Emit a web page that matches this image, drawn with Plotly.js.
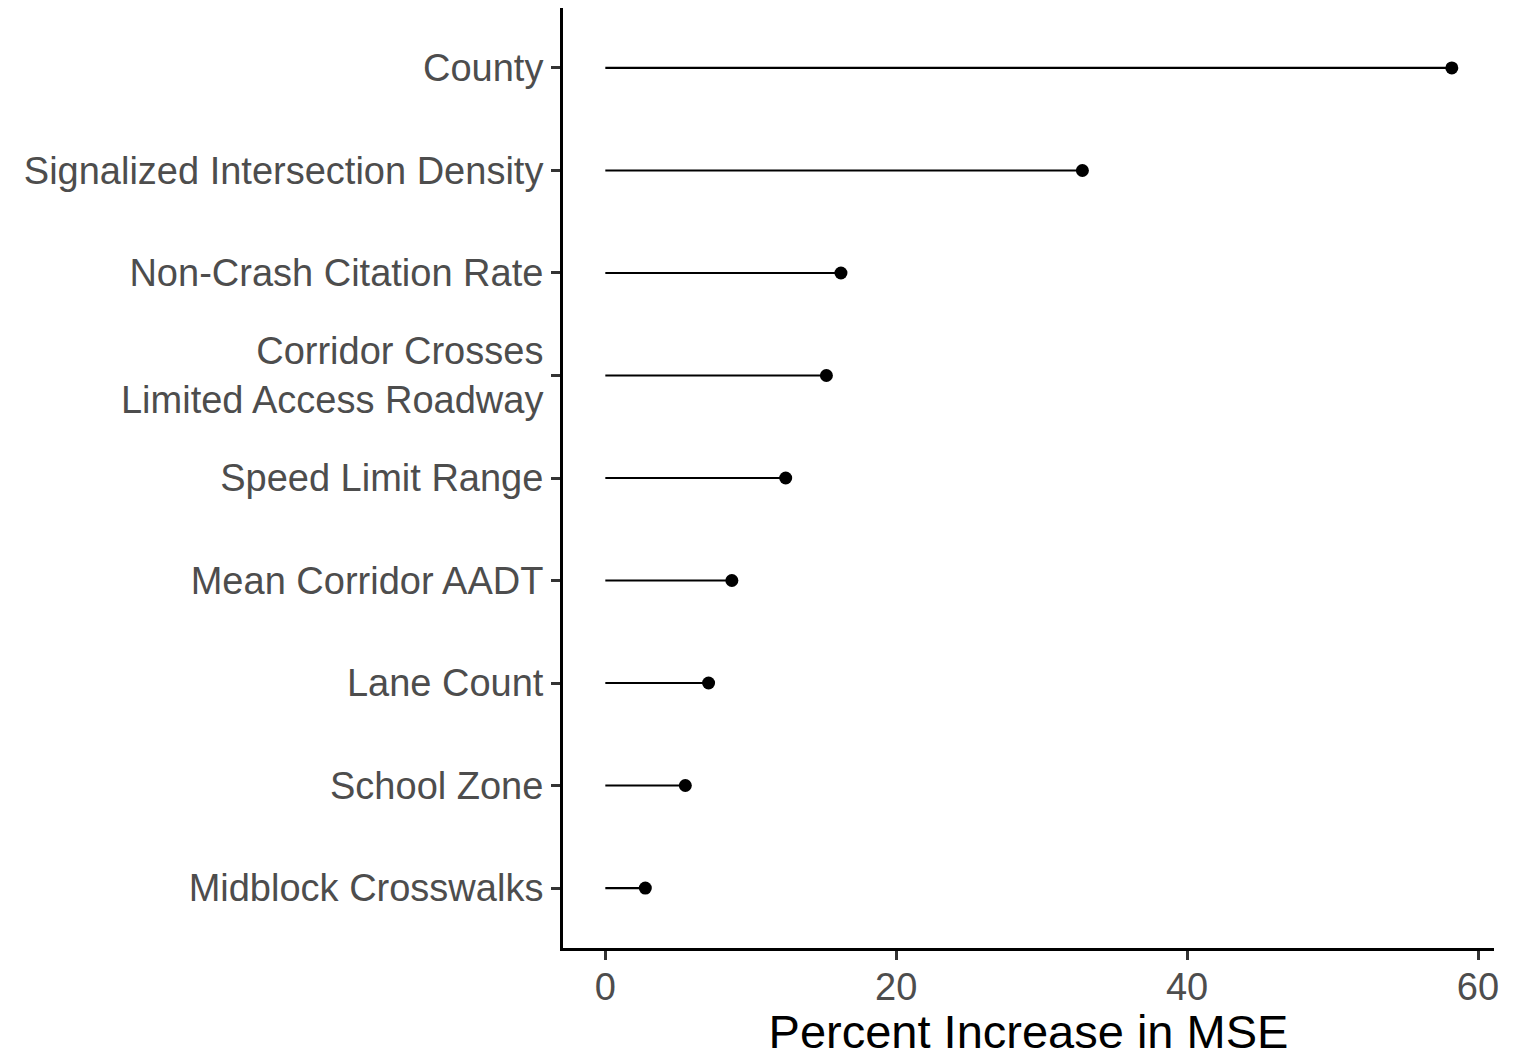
<!DOCTYPE html>
<html>
<head>
<meta charset="utf-8">
<script src="https://cdn.plot.ly/plotly-3.0.1.min.js"></script>
<style>
  html, body { margin: 0; padding: 0; background: #fff; }
  #chart { width: 1525px; height: 1058px; }
</style>
</head>
<body>
<div id="chart"></div>
<script>
// Variable importance (random forest), top to bottom
const variables = [
  "County",
  "Signalized Intersection Density",
  "Non-Crash Citation Rate",
  "Corridor Crosses<br>Limited Access Roadway",
  "Speed Limit Range",
  "Mean Corridor AADT",
  "Lane Count",
  "School Zone",
  "Midblock Crosswalks"
];
const pctIncMSE = [58.2, 32.8, 16.2, 15.2, 12.4, 8.7, 7.1, 5.5, 2.75];
const xTicks = [0, 20, 40, 60];

// Stems from zero to each value, separated by gaps
const stemX = [], stemY = [];
variables.forEach((v, i) => {
  stemX.push(0, pctIncMSE[i], null);
  stemY.push(v, v, null);
});

const stems = {
  type: "scatter", mode: "lines",
  x: stemX, y: stemY,
  line: { color: "#000", width: 2.2 },
  hoverinfo: "skip", showlegend: false
};
const heads = {
  type: "scatter", mode: "markers",
  x: pctIncMSE, y: variables,
  marker: { color: "#000", size: 13 },
  showlegend: false
};

const tickFont = { family: "Liberation Sans, Arial, sans-serif", size: 38, color: "#4d4d4d" };

const layout = {
  width: 1525, height: 1058,
  margin: { l: 563, r: 31, t: 8, b: 110 },
  paper_bgcolor: "#fff", plot_bgcolor: "#fff",
  showlegend: false,
  xaxis: {
    range: [-2.91, 61.1],
    tickvals: xTicks, ticktext: xTicks.map(String),
    showgrid: false, zeroline: false,
    showline: true, linecolor: "#000", linewidth: 3,
    ticks: "outside", ticklen: 9, tickwidth: 3, tickcolor: "#333",
    ticklabelstandoff: -6,
    tickfont: tickFont,
    title: { text: "Percent Increase in MSE", font: { family: "Liberation Sans, Arial, sans-serif", size: 47, color: "#000" }, standoff: 12 }
  },
  yaxis: {
    type: "category",
    categoryorder: "array", categoryarray: variables.slice().reverse(),
    range: [-0.585, 8.585],
    showgrid: false, zeroline: false,
    showline: true, linecolor: "#000", linewidth: 3,
    ticks: "outside", ticklen: 9, tickwidth: 3, tickcolor: "#333",
    tickfont: tickFont
  }
};

Plotly.newPlot("chart", [stems, heads], layout, { displayModeBar: false, staticPlot: true });
</script>
</body>
</html>
